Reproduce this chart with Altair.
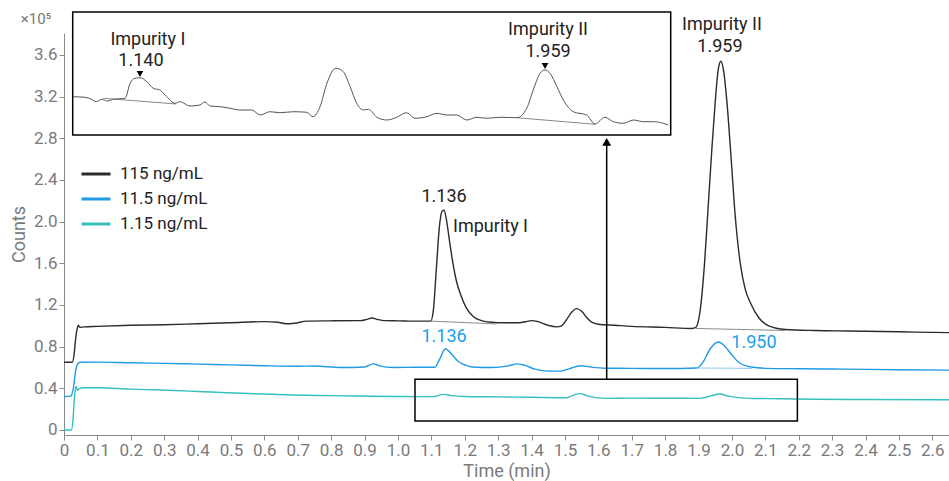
import altair as alt
import pandas as pd

# ---------------- data ----------------
series_names = ["115 ng/mL", "11.5 ng/mL", "1.15 ng/mL"]
series_colors = ["#2b2b2b", "#1e9be3", "#35bfbf"]

t_115 = [0.000, 0.025, 0.030, 0.035, 0.040, 0.043, 0.047, 0.060, 0.100, 0.200, 0.300, 0.400, 0.500,
         0.600, 0.640, 0.665, 0.690, 0.727, 0.800, 0.886, 0.905, 0.922, 0.940, 0.960, 1.000, 1.050,
         1.098, 1.106, 1.115, 1.124, 1.132, 1.138, 1.145, 1.155, 1.163, 1.175, 1.190, 1.205, 1.227,
         1.250, 1.280, 1.320, 1.360, 1.385, 1.400, 1.420, 1.450, 1.475, 1.490, 1.505, 1.520, 1.535,
         1.550, 1.565, 1.580, 1.600, 1.650, 1.700, 1.800, 1.880, 1.892, 1.905, 1.918, 1.930, 1.940,
         1.950, 1.960, 1.967, 1.975, 1.985, 1.998, 2.010, 2.025, 2.040, 2.057, 2.080, 2.110, 2.160,
         2.250, 2.350, 2.450, 2.550, 2.650]
v_115 = [0.65, 0.65, 0.72, 0.88, 0.98, 1.005, 0.985, 0.99, 0.995, 1.005, 1.01, 1.02, 1.03,
         1.04, 1.035, 1.02, 1.025, 1.045, 1.048, 1.05, 1.06, 1.075, 1.06, 1.05, 1.048, 1.045,
         1.045, 1.15, 1.55, 1.95, 2.10, 2.11, 2.02, 1.80, 1.63, 1.43, 1.28, 1.17, 1.085,
         1.05, 1.035, 1.03, 1.03, 1.04, 1.05, 1.04, 1.005, 0.99, 1.00, 1.06, 1.13, 1.165,
         1.14, 1.08, 1.035, 1.015, 1.005, 0.995, 0.985, 0.975, 0.985, 1.15, 1.60, 2.20, 2.70,
         3.15, 3.48, 3.54, 3.45, 3.15, 2.59, 2.05, 1.60, 1.35, 1.21, 1.08, 1.00, 0.965,
         0.955, 0.95, 0.945, 0.94, 0.935]

t_11 = [0.000, 0.020, 0.028, 0.035, 0.042, 0.050, 0.100, 0.200, 0.300, 0.400, 0.500, 0.600, 0.700,
        0.750, 0.830, 0.900, 0.926, 0.945, 0.985, 1.050, 1.110, 1.125, 1.142, 1.160, 1.180, 1.200,
        1.222, 1.280, 1.330, 1.358, 1.380, 1.410, 1.450, 1.484, 1.510, 1.547, 1.575, 1.620, 1.700,
        1.800, 1.894, 1.915, 1.935, 1.960, 1.980, 2.000, 2.020, 2.057, 2.100, 2.200, 2.300, 2.400,
        2.500, 2.650]
v_11 = [0.32, 0.325, 0.40, 0.57, 0.64, 0.65, 0.652, 0.645, 0.64, 0.632, 0.625, 0.617, 0.612,
        0.615, 0.60, 0.605, 0.635, 0.615, 0.60, 0.602, 0.603, 0.68, 0.78, 0.73, 0.66, 0.625,
        0.605, 0.60, 0.615, 0.635, 0.62, 0.585, 0.565, 0.565, 0.585, 0.617, 0.605, 0.593, 0.592,
        0.59, 0.595, 0.66, 0.78, 0.845, 0.80, 0.72, 0.65, 0.605, 0.592, 0.588, 0.585, 0.582,
        0.578, 0.575]

t_1 = [0.000, 0.022, 0.027, 0.031, 0.036, 0.040, 0.045, 0.058, 0.100, 0.200, 0.287, 0.400, 0.487,
       0.600, 0.686, 0.800, 0.886, 1.000, 1.086, 1.110, 1.135, 1.160, 1.200, 1.305, 1.400, 1.505,
       1.525, 1.545, 1.570, 1.625, 1.700, 1.800, 1.904, 1.935, 1.964, 1.990, 2.050, 2.150, 2.250,
       2.400, 2.650]
v_1 = [0.00, 0.00, 0.10, 0.30, 0.42, 0.38, 0.395, 0.405, 0.405, 0.392, 0.384, 0.37, 0.358,
       0.345, 0.336, 0.33, 0.326, 0.322, 0.32, 0.322, 0.342, 0.33, 0.322, 0.318, 0.314, 0.31,
       0.335, 0.349, 0.325, 0.304, 0.306, 0.305, 0.304, 0.325, 0.345, 0.325, 0.304, 0.30, 0.295,
       0.293, 0.29]

# zoomed trace of the 1.15 ng/mL run (inset)
inset_t = [1.005, 1.029, 1.042, 1.052, 1.063, 1.073, 1.086, 1.110, 1.120, 1.130, 1.140, 1.154,
           1.167, 1.180, 1.194, 1.211, 1.221, 1.241, 1.261, 1.271, 1.282, 1.302, 1.322, 1.342,
           1.366, 1.383, 1.403, 1.423, 1.450, 1.477, 1.490, 1.504, 1.518, 1.536, 1.551, 1.565,
           1.578, 1.592, 1.602, 1.619, 1.639, 1.659, 1.679, 1.696, 1.720, 1.740, 1.760, 1.780,
           1.801, 1.821, 1.841, 1.868, 1.902, 1.922, 1.935, 1.949, 1.959, 1.969, 1.983, 1.996,
           2.016, 2.043, 2.060, 2.080, 2.097, 2.117, 2.138, 2.158, 2.178, 2.198, 2.208]
inset_v = [0.3198, 0.3194, 0.3180, 0.3163, 0.3180, 0.3168, 0.3180, 0.3187, 0.3292, 0.3327, 0.3331,
           0.3303, 0.3257, 0.3245, 0.3198, 0.3152, 0.3163, 0.3133, 0.3140, 0.3161, 0.3133, 0.3128,
           0.3117, 0.3105, 0.3105, 0.3070, 0.3093, 0.3086, 0.3093, 0.3089, 0.3058, 0.3128, 0.3292,
           0.3397, 0.3373, 0.3268, 0.3152, 0.3105, 0.3110, 0.3054, 0.3035, 0.3054, 0.3086, 0.3047,
           0.3058, 0.3082, 0.3070, 0.3070, 0.3035, 0.3054, 0.3047, 0.3054, 0.3051, 0.3117, 0.3245,
           0.3362, 0.3385, 0.3362, 0.3268, 0.3175, 0.3093, 0.3070, 0.3007, 0.3054, 0.3023, 0.3012,
           0.3035, 0.3023, 0.3023, 0.3012, 0.3000]

x_ticks = [0, 0.1, 0.2, 0.3, 0.4, 0.5, 0.6, 0.7, 0.8, 0.9, 1.0, 1.1, 1.2, 1.3, 1.4, 1.5, 1.6, 1.7,
           1.8, 1.9, 2.0, 2.1, 2.2, 2.3, 2.4, 2.5, 2.6]
y_ticks = [0, 0.4, 0.8, 1.2, 1.6, 2.0, 2.4, 2.8, 3.2, 3.6]

# peak annotations on the main chart
ann_text = ["1.136", "Impurity II", "1.959", "1.136", "1.950", "×10⁵"]
ann_t = [1.138, 1.970, 1.964, 1.138, 2.066, -0.084]
ann_v = [2.237, 3.888, 3.677, 0.893, 0.835, 3.945]
ann_col = ["#222222", "#222222", "#222222", "#1aa0e6", "#1aa0e6", "#7a7a7a"]
ann_size = [18, 18, 18, 18, 18, 15]

left_text = ["Impurity I"]
left_t = [1.165]
left_v = [1.949]

# integration baselines (main)
base_t1 = [1.098, 1.892, 1.894]
base_v1 = [1.045, 0.975, 0.595]
base_t2 = [1.295, 2.160, 2.060]
base_v2 = [1.018, 0.955, 0.592]
base_col = ["#8a8a8a", "#8a8a8a", "#8cc8ee"]

# zoom box in main chart and arrow
box_t = [1.051, 2.196]
box_v = [0.0864, 0.487]
arrow_t = [1.625]
arrow_v = [0.487, 2.765]

# inset extent and annotations (inset units)
inset_t_range = [1.004, 2.213]
inset_v_range = [0.293, 0.3791]
inset_base_t1 = [1.066, 1.902]
inset_base_v1 = [0.3187, 0.3051]
inset_base_t2 = [1.214, 2.060]
inset_base_v2 = [0.3147, 0.3005]
inset_mark_t = [1.140, 1.959]
inset_mark_v = [0.3357, 0.3413]
inset_lab_text = ["Impurity I", "1.140", "Impurity II", "1.959"]
inset_lab_t = [1.156, 1.142, 1.965, 1.965]
inset_lab_v = [0.3595, 0.3445, 0.3665, 0.3511]

# ---------------- build ----------------
FONT = "Roboto"
traces = pd.concat([
    pd.DataFrame({"t": t_115, "v": v_115, "series": series_names[0]}),
    pd.DataFrame({"t": t_11, "v": v_11, "series": series_names[1]}),
    pd.DataFrame({"t": t_1, "v": v_1, "series": series_names[2]}),
], ignore_index=True)

xs = alt.Scale(domain=[0, 2.65], nice=False, zero=False)
ys = alt.Scale(domain=[-0.048, 3.811], nice=False, zero=False)
fmt = "datum.value == 0 ? '0' : format(datum.value, '.1f')"

x_axis = alt.Axis(values=x_ticks, labelExpr=fmt, grid=False, labelOverlap=False,
                  labelBound=False, labelFlush=False, titlePadding=4)
y_axis = alt.Axis(values=y_ticks, labelExpr=fmt, grid=False, titlePadding=5,
                  labelOverlap=False, labelBound=False, labelFlush=False)
X = alt.X("t:Q", scale=xs, title="Time (min)", axis=x_axis)
Y = alt.Y("v:Q", scale=ys, title="Counts", axis=y_axis)

lines = alt.Chart(traces).mark_line(strokeWidth=1.4, interpolate="monotone").encode(
    x=X, y=Y,
    color=alt.Color("series:N", sort=series_names,
                    scale=alt.Scale(domain=series_names, range=series_colors),
                    legend=alt.Legend(title=None, orient="none", legendX=16, legendY=131,
                                      symbolType="stroke", symbolSize=841, symbolStrokeWidth=3,
                                      labelFontSize=17, labelFont=FONT, labelColor="#222222",
                                      labelOffset=8, rowPadding=5, clipHeight=20, padding=0)),
    detail="series:N",
)

base_df = pd.DataFrame({"t": base_t1, "v": base_v1, "t2": base_t2, "v2": base_v2, "c": base_col})
baselines = alt.Chart(base_df).mark_rule(strokeWidth=1).encode(
    x=X, y=Y, x2="t2:Q", y2="v2:Q", color=alt.Color("c:N", scale=None))

box_df = pd.DataFrame({"t": [box_t[0]], "t2": [box_t[1]], "v": [box_v[0]], "v2": [box_v[1]]})
box = alt.Chart(box_df).mark_rect(fillOpacity=0, stroke="black", strokeWidth=1.5).encode(
    x=X, x2="t2:Q", y=Y, y2="v2:Q")

arrow_df = pd.DataFrame({"t": arrow_t, "v": [arrow_v[0]], "v2": [arrow_v[1]]})
arrow = alt.Chart(arrow_df).mark_rule(color="black", strokeWidth=1.5).encode(x=X, y=Y, y2="v2:Q")
head = alt.Chart(pd.DataFrame({"t": arrow_t, "v": [arrow_v[1]]})).mark_point(
    shape="triangle-up", filled=True, color="black", size=80, opacity=1).encode(x=X, y=Y)

ann_df = pd.DataFrame({"txt": ann_text, "t": ann_t, "v": ann_v, "c": ann_col, "s": ann_size})
ann = alt.Chart(ann_df).mark_text(font=FONT, align="center", baseline="middle").encode(
    x=X, y=Y, text="txt:N",
    color=alt.Color("c:N", scale=None), size=alt.Size("s:Q", scale=None))
left_ann = alt.Chart(pd.DataFrame({"txt": left_text, "t": left_t, "v": left_v})).mark_text(
    font=FONT, fontSize=18, align="left", baseline="middle", color="#222222").encode(
    x=X, y=Y, text="txt:N")

main = alt.layer(lines, baselines, box, arrow, head, ann, left_ann)

# inset with its own scales mapped onto a pixel range inside the plot
ixs = alt.Scale(domain=inset_t_range, range=[8.7, 606.7], nice=False, zero=False)
iys = alt.Scale(domain=inset_v_range, range=[102, -21], nice=False, zero=False)
ix = lambda f="t": alt.X(f"{f}:Q", scale=ixs, axis=None)
iy = lambda f="v": alt.Y(f"{f}:Q", scale=iys, axis=None)

ibox = alt.Chart(pd.DataFrame({"t": [inset_t_range[0]], "t2": [inset_t_range[1]],
                               "v": [inset_v_range[0]], "v2": [inset_v_range[1]]})).mark_rect(
    fill="white", stroke="black", strokeWidth=1.5).encode(x=ix(), x2="t2:Q", y=iy(), y2="v2:Q")
iline = alt.Chart(pd.DataFrame({"t": inset_t, "v": inset_v})).mark_line(
    color="#555555", strokeWidth=1, interpolate="monotone").encode(x=ix(), y=iy())
ibase = alt.Chart(pd.DataFrame({"t": inset_base_t1, "v": inset_base_v1,
                                "t2": inset_base_t2, "v2": inset_base_v2})).mark_rule(
    color="#8a8a8a", strokeWidth=1).encode(x=ix(), y=iy(), x2="t2:Q", y2="v2:Q")
imark = alt.Chart(pd.DataFrame({"t": inset_mark_t, "v": inset_mark_v})).mark_point(
    shape="triangle-down", filled=True, color="black", size=45, opacity=1).encode(x=ix(), y=iy())
ilab = alt.Chart(pd.DataFrame({"txt": inset_lab_text, "t": inset_lab_t, "v": inset_lab_v})).mark_text(
    font=FONT, fontSize=18, align="center", baseline="middle", color="#222222").encode(
    x=ix(), y=iy(), text="txt:N")

inset = alt.layer(ibox, ibase, iline, imark, ilab)

chart = alt.layer(main, inset).resolve_scale(x="independent", y="independent").properties(
    width=885, height=402,
    padding={"left": 64, "top": 33, "right": 0, "bottom": 46},
    autosize=alt.AutoSizeParams(type="none"),
).configure_view(stroke="transparent").configure_axis(
    labelFont=FONT, labelFontSize=17, labelColor="#7a7a7a",
    titleFont=FONT, titleFontSize=18, titleColor="#7a7a7a", titleFontWeight="normal",
    domainColor="#8a8a8a", tickColor="#8a8a8a", tickSize=5, labelPadding=2,
)

chart.save("out.html", embed_options={"renderer": "svg", "actions": False})
